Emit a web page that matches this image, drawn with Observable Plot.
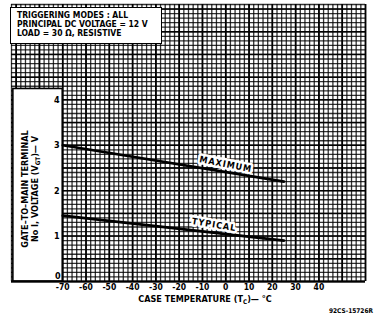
<!DOCTYPE html>
<html>
<head>
<meta charset="utf-8">
<script src="https://cdn.jsdelivr.net/npm/d3@7"></script>
<script src="https://cdn.jsdelivr.net/npm/@observablehq/plot@0.6"></script>
<style>
html,body{margin:0;padding:0;background:#fff;}
#wrap{position:relative;width:375px;height:324px;overflow:hidden;
  font-family:"DejaVu Sans Condensed","Liberation Sans Narrow","DejaVu Sans",sans-serif;font-weight:bold;color:#000;}
#chart svg{display:block;}
.title{position:absolute;left:10px;top:7px;width:152px;height:37px;background:#fff;border:1.5px solid #000;
  box-sizing:border-box;font-size:8.5px;line-height:9px;padding:3px 0 0 6px;white-space:nowrap;}
.ylab{position:absolute;left:-49px;top:178px;width:160px;height:22px;transform:rotate(-90deg);
  text-align:center;font-size:9px;line-height:10px;white-space:nowrap;}
.xlab{position:absolute;left:105px;top:294px;width:200px;text-align:center;font-size:9px;line-height:10px;white-space:nowrap;}
.cap{position:absolute;right:2px;top:307px;font-size:6.5px;line-height:8px;white-space:nowrap;}
sub{font-size:70%;vertical-align:-2px;line-height:0;}
</style>
</head>
<body>
<div id="wrap">
  <div id="chart"></div>
  <div class="title">TRIGGERING MODES : ALL<br>PRINCIPAL DC VOLTAGE = 12 V<br>LOAD = 30 Ω, RESISTIVE</div>
  <div class="ylab">GATE–TO–MAIN TERMINAL<br>No I, VOLTAGE (V<sub>GT</sub>)— V</div>
  <div class="xlab">CASE TEMPERATURE (T<sub>C</sub>)— °C</div>
  <div class="cap">92CS-15726R</div>
</div>
<script>
// ---- data ----
const xTicks = [-70, -60, -50, -40, -30, -20, -10, 0, 10, 20, 30, 40];
const yTicks = [0, 1, 2, 3, 4];
const maxTemp = [-70, 25];
const maxVolt = [3.0, 2.2];
const typTemp = [-70, 25];
const typVolt = [1.45, 0.9];
const labelText = ["MAXIMUM", "TYPICAL"];
const labelTemp = [0, -5];
const labelVolt = [2.58, 1.25];

const maxData = maxTemp.map((t, i) => ({t, v: maxVolt[i]}));
const typData = typTemp.map((t, i) => ({t, v: typVolt[i]}));
const labels = labelText.map((s, i) => ({s, t: labelTemp[i], v: labelVolt[i]}));

// graph-paper grid
const xMinor = d3.range(-92, 61, 2);
const xMajor = d3.range(-90, 61, 10);
const yMinor = d3.range(0, 62).map(i => i / 10);
const yMajor = d3.range(0, 13).map(i => i / 2);

const fmt = d => (d < 0 ? "-" + Math.abs(d) : String(d));

const chart = Plot.plot({
  width: 375,
  height: 324,
  marginLeft: 11,
  marginRight: 10,
  marginTop: 4,
  marginBottom: 43,
  style: {fontFamily: '"DejaVu Sans Condensed","Liberation Sans Narrow","DejaVu Sans",sans-serif', fontWeight: "bold", fontSize: "8.5px", color: "#000", background: "#fff"},
  x: {domain: [-92, 60]},
  y: {domain: [0, 6.1]},
  marks: [
    Plot.ruleX(xMinor, {stroke: "#000", strokeOpacity: 0.8, strokeWidth: 1.3}),
    Plot.ruleY(yMinor, {stroke: "#000", strokeOpacity: 0.8, strokeWidth: 1.3}),
    Plot.ruleX(xMajor, {stroke: "#000", strokeOpacity: 1, strokeWidth: 1.7}),
    Plot.ruleY(yMajor, {stroke: "#000", strokeOpacity: 0.95, strokeWidth: 1.5}),
    Plot.rect([0], {x1: -91.2, x2: -70, y1: 0, y2: 4.24, fill: "#fff", stroke: "#000", strokeWidth: 1.6}),
    Plot.ruleY([0], {stroke: "#000", strokeWidth: 2}),
    Plot.line(maxData, {x: "t", y: "v", stroke: "#000", strokeWidth: 2.6}),
    Plot.line(typData, {x: "t", y: "v", stroke: "#000", strokeWidth: 2.6}),
    Plot.text(labels.slice(0, 1), {x: "t", y: "v", text: "s", rotate: 11, fill: "#000", stroke: "#fff", strokeWidth: 5, paintOrder: "stroke", fontSize: 9}),
    Plot.text(labels.slice(1), {x: "t", y: "v", text: "s", rotate: 9, fill: "#000", stroke: "#fff", strokeWidth: 5, paintOrder: "stroke", fontSize: 9}),
    Plot.text(yTicks.filter(d => d > 0), {x: -70, y: d => d, text: d => String(d), textAnchor: "end", dx: -3, fontSize: 9}),
    Plot.text(yTicks.filter(d => d === 0), {x: -70, y: d => d, text: d => String(d), textAnchor: "end", dx: -2, dy: -5, fontSize: 9}),
    Plot.axisX(xTicks, {tickSize: 0, tickPadding: 2, tickFormat: fmt, label: null, fontSize: 8.5}),
    Plot.axisY([], {label: null})
  ]
});
d3.select(chart).selectAll("text").filter(function () {
  return labelText.includes(this.textContent);
}).attr("letter-spacing", 1);
document.getElementById("chart").appendChild(chart);
</script>
</body>
</html>
